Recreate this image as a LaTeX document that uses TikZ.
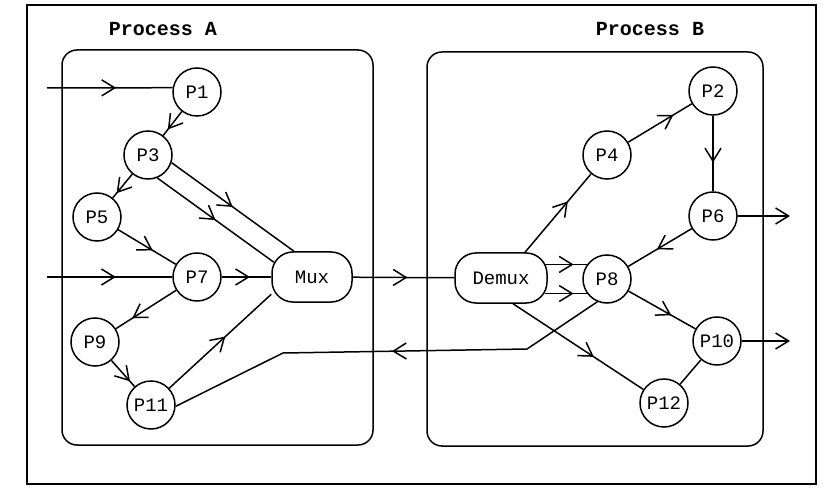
\documentclass[tikz,border=0pt]{standalone}
\usepackage{fontspec}
\setmonofont{Liberation Mono}
\usetikzlibrary{arrows.meta,decorations.markings,calc}
\begin{document}
\begin{tikzpicture}[x=1pt,y=-1pt,line width=1.5pt,
  proc/.style={circle,draw,minimum size=48pt,inner sep=0pt,font=\fontsize{19}{19}\selectfont\ttfamily},
  muxbox/.style={rectangle,draw,rounded corners=21pt,minimum height=50pt,inner sep=0pt,font=\fontsize{19}{19}\selectfont\ttfamily},
  procbox/.style={draw,rounded corners=15pt},
  arr/.style={postaction={decorate},decoration={markings,mark=at position #1 with {\arrow{Straight Barb[length=13pt,width=16pt]}}}},
  endarr/.style={-{Straight Barb[length=13pt,width=16pt]}},
  title/.style={font=\fontsize{20}{20}\selectfont\ttfamily\bfseries}
]
\useasboundingbox (0,0) rectangle (824,494);
\draw (27,5) rectangle (816,484);
\draw[procbox] (62,50) rectangle (373,445);
\draw[procbox] (427,52) rectangle (763,446);
\node[title] (tA) at (163,29) {Process A};
\node[title] (tB) at (650,29) {Process B};
% process A
\node[proc] (P1) at (197,92) {P1};
\node[proc] (P3) at (148,155) {P3};
\node[proc] (P5) at (97,217) {P5};
\node[proc] (P7) at (197,277) {P7};
\node[proc] (P9) at (95,342) {P9};
\node[proc] (P11) at (151,405) {P11};
\node[muxbox,minimum width=80pt] (Mux) at (312,277) {Mux};
% process B
\node[muxbox,minimum width=92pt] (Demux) at (501,278) {Demux};
\node[proc] (P2) at (713,91) {P2};
\node[proc] (P4) at (607,155) {P4};
\node[proc] (P6) at (713,216) {P6};
\node[proc] (P8) at (607,279) {P8};
\node[proc] (P10) at (717,341) {P10};
\node[proc] (P12) at (664,403) {P12};
\coordinate (i1) at (47,88);
\coordinate (i2) at (47,277);
\coordinate (o1) at (790,216);
\coordinate (o2) at (790,341);
\coordinate (k1) at (527,349);
\coordinate (k2) at (283,353);
% edges
\draw[arr=0.55] (i1) -- (P1.170);
\draw[arr=0.75] (P1) -- (P3);
\draw[arr=0.8] (P3) -- (P5);
\draw[arr=0.5] (P3.-18) -- (Mux.125);
\draw[arr=0.5] (P3.-68) -- ($(Mux.160)+(2.5,0)$);
\draw[arr=0.6] (P5) -- (P7);
\draw[arr=0.55] (i2) -- (P7);
\draw[arr=0.57] (P7) -- (Mux);
\draw[arr=0.73] (P7) -- (P9);
\draw[arr=0.8] (P9) -- (P11);
\draw[arr=0.55] (P11) -- (Mux.203);
\draw[arr=0.54] (Mux) -- (Demux);
\draw[arr=0.49] (P8.247) -- (k1) -- (k2) -- (P11.-3);
\draw[arr=0.65] (Demux.47) -- (P4);
\draw[arr=0.71] (P4) -- (P2);
\draw[arr=0.62] (P2) -- (P6);
\draw[endarr] (P6) -- (o1);
\draw[arr=0.55] (P6) -- (P8);
\draw[arr=0.68] ($(P8.144 -| Demux.east)+(-2.5,0)$) -- (P8.144);
\draw[arr=0.68] ($(P8.216 -| Demux.east)+(-2.5,0)$) -- (P8.216);
\draw[arr=0.62] ($(Demux.south)+(12,0)$) -- (P12);
\draw[arr=0.64] (P8) -- (P10);
\draw[endarr] (P10) -- (o2);
\draw (P12) -- (P10);
\end{tikzpicture}
\end{document}
